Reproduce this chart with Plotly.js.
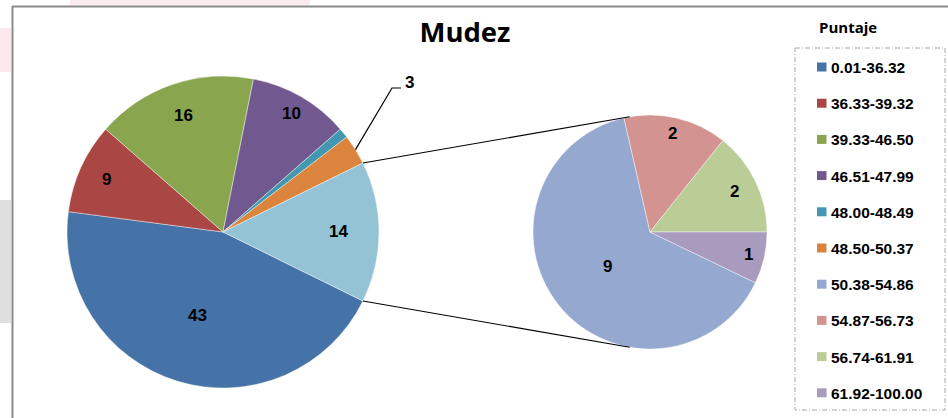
<!DOCTYPE html>
<html>
<head>
<meta charset="utf-8">
<script src="https://cdn.plot.ly/plotly-3.0.1.min.js"></script>
<style>html,body{margin:0;padding:0;background:#fff;}#chart{width:948px;height:418px;}</style>
</head>
<body>
<div id="chart"></div>
<script>
// ---- data ----
var mainLabels = ["0.01-36.32", "36.33-39.32", "39.33-46.50", "46.51-47.99", "48.00-48.49", "48.50-50.37"];
var mainValues = [43, 9, 16, 10, 1, 3];
var secLabels = ["50.38-54.86", "54.87-56.73", "56.74-61.91", "61.92-100.00"];
var secValues = [9, 2, 2, 1];
var otherLabel = "Otros";
var chartTitle = "Mudez";
var legendTitle = "Puntaje";

// ---- style ----
var mainColors = ["#4572A7", "#AA4643", "#89A54E", "#71588F", "#4198AF", "#DB843D"];
var otherColor = "#93C3D5";
var secColors = ["#95A9D0", "#D39391", "#BACD97", "#A99BBE"];

var W = 948, H = 418;
function X(px) { return px / W; }
function Y(py) { return 1 - py / H; }

var sum = function (a) { return a.reduce(function (s, v) { return s + v; }, 0); };
var otherValue = sum(secValues);
var pieValues = mainValues.concat([otherValue]);
var pieLabels = mainLabels.concat([otherLabel]);
var pieColors = mainColors.concat([otherColor]);
var mainTotal = sum(pieValues);
var secTotal = sum(secValues);

// geometry (pixels)
var C1 = {x: 223, y: 232, r: 156};
var C2 = {x: 650, y: 232, r: 117};
var rot1 = 90 + (otherValue / mainTotal) * 180;
var rot2 = 90 + (secValues[secValues.length - 1] / secTotal) * 360;

function midAngle(vals, total, rot, i) {
  var start = rot + sum(vals.slice(0, i)) / total * 360;
  return start + vals[i] / total * 180;
}
function pt(c, angDeg, frac) {
  var a = angDeg * Math.PI / 180;
  return {x: c.x + frac * c.r * Math.sin(a), y: c.y - frac * c.r * Math.cos(a)};
}

var labelFont = {family: "Liberation Sans, Arial, sans-serif", size: 17, color: "#000", weight: "bold"};
var annotations = [];
var shapes = [];

// main pie labels
var mainFrac = [0.56, 0.82, 0.79, 0.88, null, null, 0.74];
pieValues.forEach(function (v, i) {
  if (mainFrac[i] === null) return;
  var p = pt(C1, midAngle(pieValues, mainTotal, rot1, i), mainFrac[i]);
  annotations.push({xref: "paper", yref: "paper", x: X(p.x), y: Y(p.y), text: String(v),
    showarrow: false, xanchor: "center", yanchor: "middle", font: labelFont});
});
// leader label for small orange slice
(function () {
  var i = 5;
  var p0 = pt(C1, midAngle(pieValues, mainTotal, rot1, i), 1.0);
  var elbow = {x: 392, y: 88}, end = {x: 401, y: 88};
  shapes.push({type: "path", xref: "paper", yref: "paper",
    path: "M" + X(p0.x) + "," + Y(p0.y) + " L" + X(elbow.x) + "," + Y(elbow.y) + " L" + X(end.x) + "," + Y(end.y),
    line: {color: "#000", width: 1.2}});
  annotations.push({xref: "paper", yref: "paper", x: X(409), y: Y(83), text: String(pieValues[i]),
    showarrow: false, xanchor: "center", yanchor: "middle", font: labelFont});
})();
// secondary pie labels
var secFrac = [0.47, 0.86, 0.8, 0.86];
secValues.forEach(function (v, i) {
  var p = pt(C2, midAngle(secValues, secTotal, rot2, i), secFrac[i]);
  annotations.push({xref: "paper", yref: "paper", x: X(p.x), y: Y(p.y), text: String(v),
    showarrow: false, xanchor: "center", yanchor: "middle", font: labelFont});
});

// connector lines
(function () {
  var half = (otherValue / mainTotal) * 180;
  var a = pt(C1, 90 - half, 1), b = pt(C1, 90 + half, 1);
  var c = pt(C2, -10, 1), d = pt(C2, 190, 1);
  shapes.push({type: "line", xref: "paper", yref: "paper", x0: X(a.x), y0: Y(a.y), x1: X(c.x), y1: Y(c.y), line: {color: "#000", width: 1.2}});
  shapes.push({type: "line", xref: "paper", yref: "paper", x0: X(b.x), y0: Y(b.y), x1: X(d.x), y1: Y(d.y), line: {color: "#000", width: 1.2}});
})();

// background decorations outside the chart frame (faint)
shapes.push({type: "rect", xref: "paper", yref: "paper", x0: X(70), x1: X(310), y0: Y(0), y1: Y(5), fillcolor: "rgba(250,200,210,0.35)", line: {width: 0}, layer: "below"});
shapes.push({type: "rect", xref: "paper", yref: "paper", x0: X(0), x1: X(11), y0: Y(28), y1: Y(72), fillcolor: "rgba(250,200,210,0.4)", line: {width: 0}, layer: "below"});
shapes.push({type: "rect", xref: "paper", yref: "paper", x0: X(0), x1: X(11), y0: Y(200), y1: Y(323), fillcolor: "rgba(215,215,215,0.8)", line: {width: 0}, layer: "below"});

// chart frame
shapes.push({type: "line", xref: "paper", yref: "paper", x0: X(12), y0: Y(6.5), x1: X(948), y1: Y(6.5), line: {color: "#8a8a8a", width: 2}});
shapes.push({type: "line", xref: "paper", yref: "paper", x0: X(12.5), y0: Y(6), x1: X(12.5), y1: Y(418), line: {color: "#8a8a8a", width: 2}});

// legend box
shapes.push({type: "rect", xref: "paper", yref: "paper", x0: X(795), x1: X(945), y0: Y(48), y1: Y(410),
  line: {color: "#a8a8a8", width: 1, dash: "5px,2px,1px,2px"}, fillcolor: "rgba(0,0,0,0)"});
annotations.push({xref: "paper", yref: "paper", x: X(848), y: Y(27), text: legendTitle, showarrow: false,
  xanchor: "center", yanchor: "middle", font: {family: "Open Sans, sans-serif", size: 15, color: "#000", weight: "bold"}});
var legLabels = mainLabels.concat(secLabels);
var legColors = mainColors.concat(secColors);
legLabels.forEach(function (lab, i) {
  var yc = 67 + i * 36.2;
  shapes.push({type: "rect", xref: "paper", yref: "paper", x0: X(817), x1: X(826.5), y0: Y(yc - 4.5), y1: Y(yc + 4.5),
    fillcolor: legColors[i], line: {width: 0}});
  annotations.push({xref: "paper", yref: "paper", x: X(829), y: Y(yc + 0.5), text: lab, showarrow: false,
    xanchor: "left", yanchor: "middle", font: {family: "Liberation Sans, Arial, sans-serif", size: 15.5, color: "#000", weight: "bold"}});
});

var traces = [
  {type: "pie", labels: pieLabels, values: pieValues, sort: false, direction: "clockwise", rotation: rot1,
    marker: {colors: pieColors, line: {color: "rgba(255,255,255,0.7)", width: 0.6}},
    textinfo: "none", hoverinfo: "none", showlegend: false,
    domain: {x: [X(C1.x - C1.r), X(C1.x + C1.r)], y: [Y(C1.y + C1.r), Y(C1.y - C1.r)]}},
  {type: "pie", labels: secLabels, values: secValues, sort: false, direction: "clockwise", rotation: rot2,
    marker: {colors: secColors, line: {color: "rgba(255,255,255,0.7)", width: 0.6}},
    textinfo: "none", hoverinfo: "none", showlegend: false,
    domain: {x: [X(C2.x - C2.r), X(C2.x + C2.r)], y: [Y(C2.y + C2.r), Y(C2.y - C2.r)]}}
];

var layout = {
  width: W, height: H, margin: {l: 0, r: 0, t: 0, b: 0},
  paper_bgcolor: "#fff", plot_bgcolor: "#fff", showlegend: false,
  title: {text: chartTitle, x: X(465), xanchor: "center", y: Y(32), yanchor: "middle", xref: "paper", yref: "paper",
    font: {family: "Open Sans, sans-serif", size: 27.5, color: "#000", weight: "bold"}},
  annotations: annotations, shapes: shapes
};

Plotly.newPlot("chart", traces, layout, {staticPlot: true, displayModeBar: false});
</script>
</body>
</html>
